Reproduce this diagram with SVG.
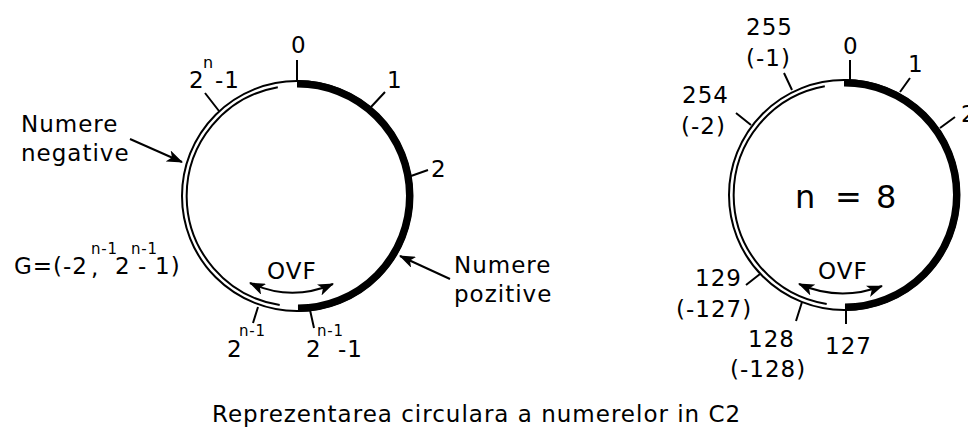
<svg xmlns="http://www.w3.org/2000/svg" width="968" height="428" viewBox="0 0 968 428">
<style>
.t{font-family:"DejaVu Sans",Verdana,sans-serif;font-size:23px;letter-spacing:1px;fill:#000}
.s{font-size:15px;letter-spacing:0.8px}
.big{font-size:32px;letter-spacing:0}
.ring{fill:none;stroke:#000;stroke-width:2}
.thick{fill:none;stroke:#000;stroke-width:7.5}
.tick{stroke:#000;stroke-width:2;fill:none}
.arr{stroke:#000;stroke-width:2;fill:none}
</style>
<defs>
<marker id="ah" markerUnits="userSpaceOnUse" markerWidth="16" markerHeight="12" refX="15" refY="6" orient="auto-start-reverse" viewBox="0 0 16 12">
<path d="M0,0 L16,6 L0,12 L4,6 z" fill="#000"/>
</marker>
</defs>
<rect width="968" height="428" fill="#fff"/>

<g id="left-circle">
<circle class="ring" cx="297" cy="196" r="115"/>
<path class="ring" d="M279.7,305.1 A110.5,110.5 0 0 1 277.8,87.2"/>
<path class="thick" d="M297,83.75 A112.25,112.25 0 0 1 297.98,308.25"/>
<path class="tick" d="M297,60 L297,81 M371,107 L385,92 M411,176 L428,170 M205,93 L219,111 M258,307 L253,323 M310,310 L314,328"/>
</g>

<g id="left-labels">
<text class="t" x="291" y="53">0</text>
<text class="t" x="189" y="88">2<tspan class="s" x="203" y="68" style="font-size:16px">n</tspan><tspan x="215" y="88">-1</tspan></text>
<text class="t" x="387" y="88">1</text>
<text class="t" x="431" y="177">2</text>
<text class="t" x="227" y="357">2<tspan class="s" x="239" y="336">n-1</tspan></text>
<text class="t" x="306" y="357">2<tspan class="s" x="317" y="336">n-1</tspan><tspan x="338" y="357">-1</tspan></text>
<text class="t" x="267" y="279">OVF</text>
</g>

<g id="negative-label">
<text class="t" x="21" y="132">Numere</text>
<text class="t" x="21" y="161">negative</text>
</g>

<g id="positive-label">
<text class="t" x="454" y="273">Numere</text>
<text class="t" x="454" y="302">pozitive</text>
</g>

<g id="range-label">
<text class="t" x="14" y="274">G=(-2<tspan class="s" x="91" y="254">n-1</tspan><tspan x="91" y="275">,</tspan><tspan x="115" y="274">2</tspan><tspan class="s" x="131" y="254">n-1</tspan><tspan x="138" y="274">-</tspan><tspan x="155" y="274">1)</tspan></text>
</g>

<g id="right-circle">
<circle class="ring" cx="844" cy="195" r="115"/>
<path class="ring" d="M826.7,304.1 A110.5,110.5 0 0 1 824.8,86.2"/>
<path class="thick" d="M844,82.75 A112.25,112.25 0 0 1 844.98,307.25"/>
<path class="tick" d="M850,60 L850,80 M910,78 L900,92 M955,117 L940,128 M784,73 L792,90 M736,113 L751,125 M746,285 L760,274 M802,302 L796,321 M846,307 L846,324"/>
</g>

<g id="right-labels">
<text class="t" x="843" y="54">0</text>
<text class="t" x="908" y="72">1</text>
<text class="t" x="961" y="122">2</text>
<text class="t" x="746" y="35">255</text>
<text class="t" x="746" y="66">(-1)</text>
<text class="t" x="682" y="103">254</text>
<text class="t" x="681" y="134">(-2)</text>
<text class="t" x="695" y="286">129</text>
<text class="t" x="676" y="317">(-127)</text>
<text class="t" x="748" y="347">128</text>
<text class="t" x="730" y="377">(-128)</text>
<text class="t" x="825" y="354">127</text>
<text class="t" x="818" y="279">OVF</text>
<text class="t big" y="208"><tspan x="795">n</tspan><tspan x="835">=</tspan><tspan x="876">8</tspan></text>
</g>

<g id="connectors">
<path class="arr" d="M130,139 L182,162" marker-end="url(#ah)"/>
<path class="arr" d="M450,279 L400,256" marker-end="url(#ah)"/>
<path class="arr" d="M250,283 Q291,302 333,284" marker-start="url(#ah)" marker-end="url(#ah)"/>
<path class="arr" d="M799,284 Q840,302 882,286" marker-start="url(#ah)" marker-end="url(#ah)"/>
</g>

<g id="title">
<text class="t" x="212" y="422">Reprezentarea circulara a numerelor in C2</text>
</g>
</svg>
